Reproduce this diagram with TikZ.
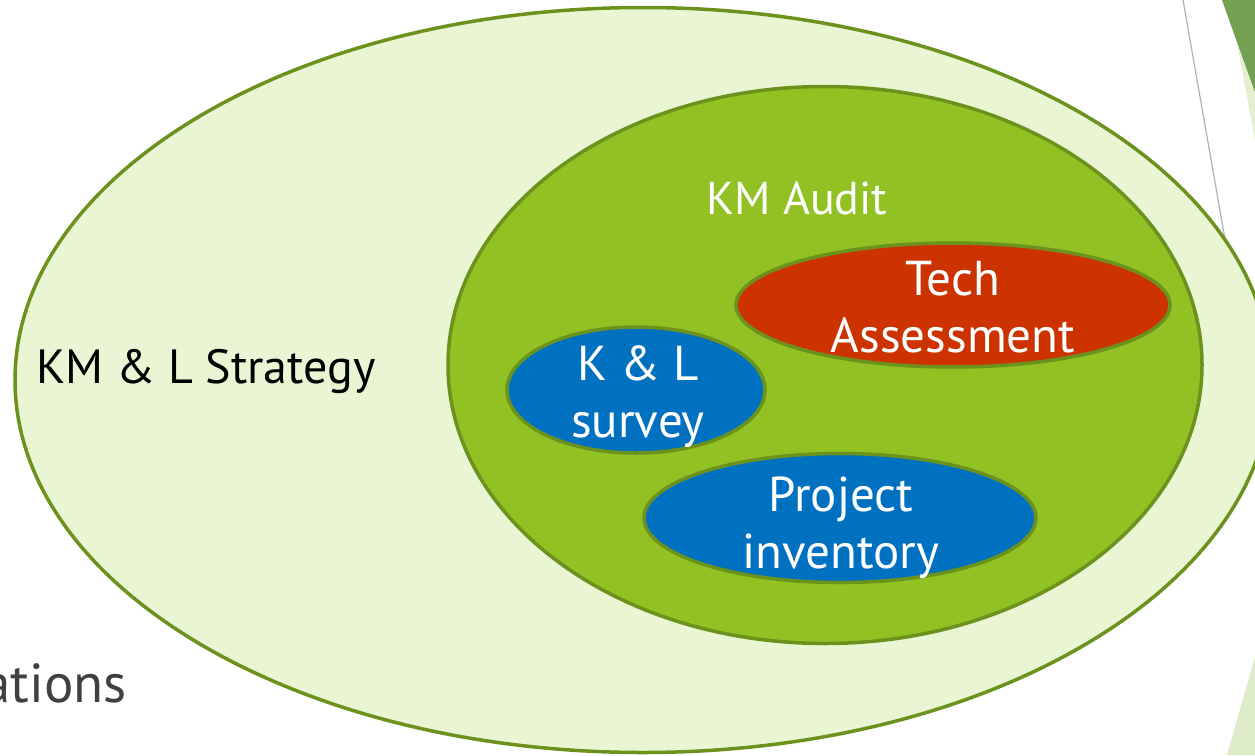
\documentclass[tikz,border=0pt]{standalone}
\usepackage{fontspec}
\setmainfont{PT Sans}
\usetikzlibrary{shapes.geometric}
\definecolor{pale}{HTML}{EAF5D4}
\definecolor{edge}{HTML}{6A921C}
\definecolor{audit}{HTML}{92C123}
\definecolor{techred}{HTML}{CC3300}
\definecolor{kblue}{HTML}{0070C0}
\definecolor{decodark}{HTML}{72A152}
\definecolor{decopale}{HTML}{E4EFD2}
\definecolor{decopaletwo}{HTML}{DEEBC8}
\definecolor{darktext}{HTML}{404040}
\begin{document}
\begin{tikzpicture}[x=1pt,y=-1pt,
  ring/.style={ellipse, draw=edge, line width=3.5pt, inner sep=0pt, outer sep=0pt},
  lbl/.style={font=\fontsize{49}{57}\selectfont, text=white, align=center, inner sep=0pt}]
\useasboundingbox (0,0) rectangle (1255,755);
\clip (0,0) rectangle (1255,755);
\fill[white] (0,0) rectangle (1255,755);
% slide decorations
\fill[decodark] (1222,0) -- (1255,0) -- (1255,93) -- cycle;
\fill[decopale] (1237,43) -- (1255,93) -- (1255,140) -- cycle;
\fill[decopaletwo] (1255,657) -- (1227,755) -- (1255,755) -- cycle;
\coordinate (gtop) at (1183,0);
\coordinate (gbot) at (1229,262);
\draw[black!30, line width=1.2pt] (gtop) -- (gbot);
\node[font=\fontsize{55}{60}\selectfont, text=darktext, anchor=base east, inner sep=0pt] (ations) at (127,702) {ations};
% ellipses
\node[ring, fill=pale, minimum width=1256, minimum height=745] (outer) at (643,380) {};
\node[ring, fill=audit, minimum width=754, minimum height=557] (inner) at (825,365) {};
\node[ring, fill=techred, minimum width=434, minimum height=124] (tech) at (953,305) {};
\node[ring, fill=kblue, minimum width=258, minimum height=126] (survey) at (636,390) {};
\node[ring, fill=kblue, minimum width=392, minimum height=129] (project) at (840,518) {};
% labels
\node[font=\fontsize{48}{58}\selectfont, anchor=base west, inner sep=0pt] (strategy) at (36,383) {KM \& L Strategy};
\node[font=\fontsize{46}{56}\selectfont, text=white, anchor=base, inner sep=0pt] (auditlbl) at (797,214) {KM Audit};
\node[lbl, anchor=base] (techlbl) at (953,352) {Tech\\Assessment};
\node[lbl, anchor=base] (surveylbl) at (638,437) {K \& L\\survey};
\node[lbl, anchor=base] (projectlbl) at (841,568) {Project\\inventory};
\end{tikzpicture}
\end{document}
